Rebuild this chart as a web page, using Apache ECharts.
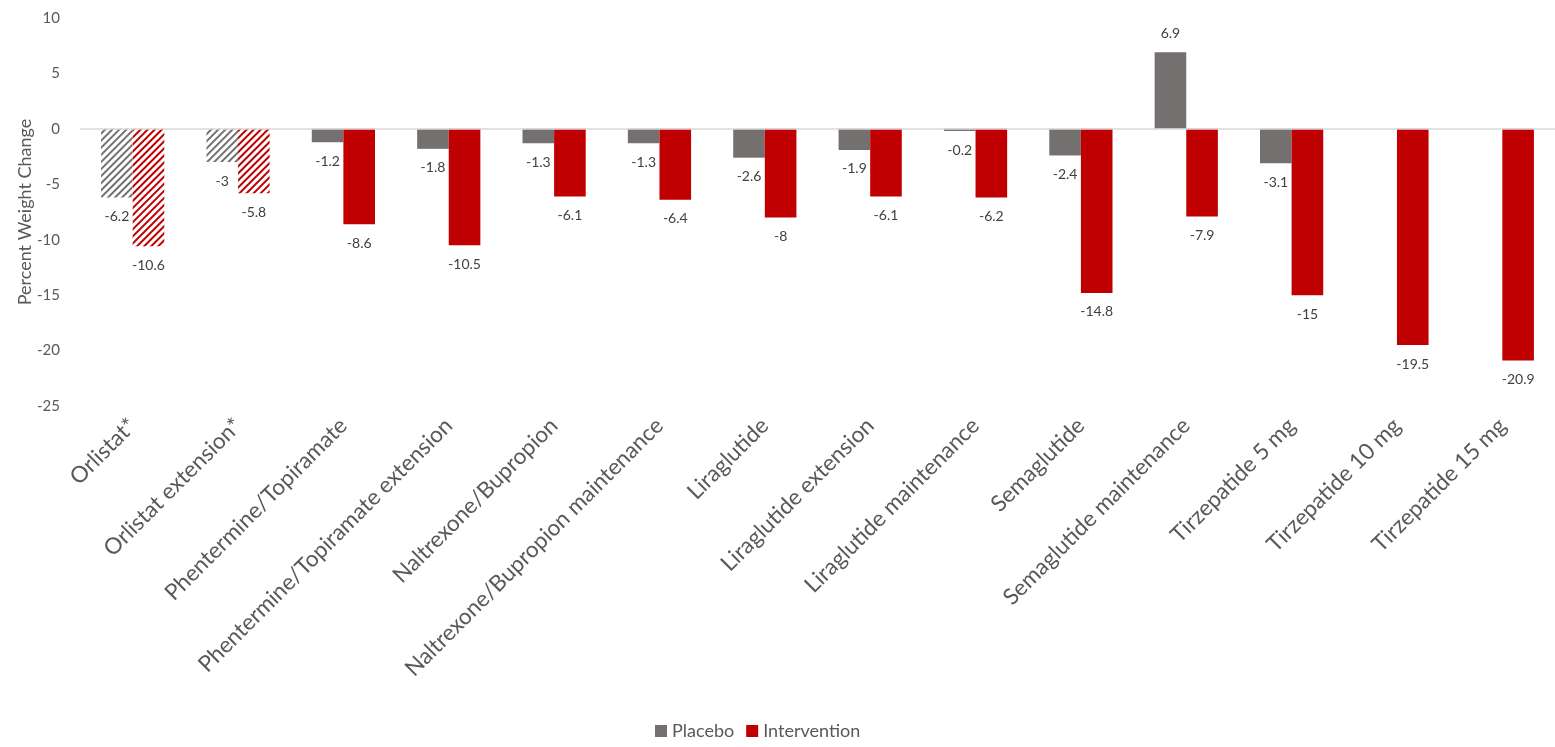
<!DOCTYPE html>
<html><head><meta charset="utf-8">
<script src="https://cdn.jsdelivr.net/npm/echarts@6/dist/echarts.min.js"></script>
<style>html,body{margin:0;padding:0;background:#fff}#c{width:1555px;height:747px}</style>
</head><body><div id="c"></div>
<script>
const categories = ["Orlistat*","Orlistat extension*","Phentermine/Topiramate","Phentermine/Topiramate extension","Naltrexone/Bupropion","Naltrexone/Bupropion maintenance","Liraglutide","Liraglutide extension","Liraglutide maintenance","Semaglutide","Semaglutide maintenance","Tirzepatide 5 mg","Tirzepatide 10 mg","Tirzepatide 15 mg"];
const placebo = [-6.2,-3,-1.2,-1.8,-1.3,-1.3,-2.6,-1.9,-0.2,-2.4,6.9,-3.1,null,null];
const intervention = [-10.6,-5.8,-8.6,-10.5,-6.1,-6.4,-8,-6.1,-6.2,-14.8,-7.9,-15,-19.5,-20.9];
const hatched = [0,1];
const yTicks = [10,5,0,-5,-10,-15,-20,-25];

const GRAY='#757070', RED='#C00000', TXT='#595959';
const FONT='Lato, "Open Sans", sans-serif';
function mk(vals, color){
  return vals.map((v,i)=>{
    if(v===null) return null;
    const item={value:v,label:{position: v<0?'bottom':'top'}};
    if(hatched.includes(i)){
      item.itemStyle={color:'#ffffff',decal:{symbol:'rect',dashArrayX:[1,0],dashArrayY:[2,3],rotation:-Math.PI/4,color:color,symbolSize:1}};
    }
    return item;
  });
}
const chart=echarts.init(document.getElementById('c'),null,{renderer:'canvas'});
chart.setOption({
  animation:false,
  aria:{enabled:false},
  grid:{left:80,right:0,top:18,bottom:341},
  legend:{bottom:2,left:650,itemWidth:12,itemHeight:12,icon:'rect',itemGap:12,
    textStyle:{color:TXT,fontSize:18,fontFamily:FONT},data:['Placebo','Intervention']},
  xAxis:{type:'category',data:categories,
    axisLine:{show:false,onZero:false},axisTick:{show:false},
    axisLabel:{rotate:45,interval:0,color:TXT,fontSize:22.5,fontFamily:FONT,margin:16}},
  yAxis:{type:'value',min:-25,max:10,interval:5,
    name:'Percent Weight Change',nameLocation:'middle',nameGap:46,nameMoveOverlap:false,
    nameTextStyle:{color:TXT,fontSize:18,fontFamily:FONT},
    axisLine:{show:false},axisTick:{show:false},splitLine:{show:false},
    axisLabel:{color:TXT,fontSize:15,fontFamily:FONT,margin:20}},
  series:[
    {name:'Placebo',type:'bar',data:mk(placebo,GRAY),itemStyle:{color:GRAY},
      barGap:'0%',barCategoryGap:'40%',
      label:{show:true,color:'#404040',fontSize:14,fontFamily:FONT,distance:12},
      markLine:{silent:true,symbol:'none',label:{show:false},lineStyle:{color:'#d9d9d9',type:'solid',width:1.5},data:[{yAxis:0}]}},
    {name:'Intervention',type:'bar',data:mk(intervention,RED),itemStyle:{color:RED},
      barGap:'0%',barCategoryGap:'40%',
      label:{show:true,color:'#404040',fontSize:14,fontFamily:FONT,distance:12}}
  ]
});
</script></body></html>
